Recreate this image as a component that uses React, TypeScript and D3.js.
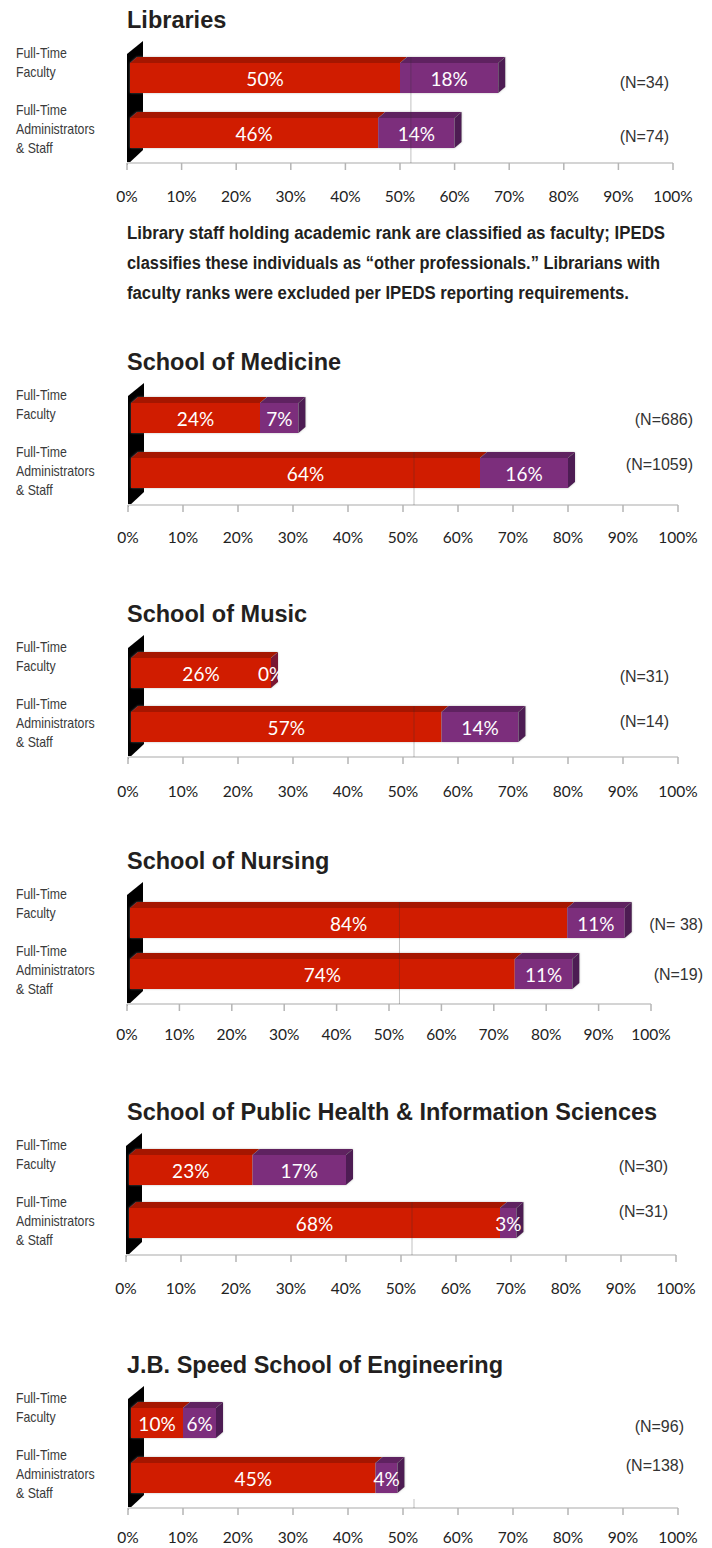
import React, { useRef, useEffect } from "react";
import * as d3 from "d3";

const W = 712;
const H = 1548;

const titles = [
  "Libraries",
  "School of Medicine",
  "School of Music",
  "School of Nursing",
  "School of Public Health & Information Sciences",
  "J.B. Speed School of Engineering",
];
const rowLabels = [
  ["Full-Time", "Faculty"],
  ["Full-Time", "Administrators", "& Staff"],
];
// red segment / purple segment, percent
const facultyRed = [50, 24, 26, 84, 23, 10];
const facultyPurple = [18, 7, 0, 11, 17, 6];
const staffRed = [46, 64, 57, 74, 68, 45];
const staffPurple = [14, 16, 14, 11, 3, 4];
const facultyN = ["(N=34)", "(N=686)", "(N=31)", "(N= 38)", "(N=30)", "(N=96)"];
const staffN = ["(N=74)", "(N=1059)", "(N=14)", "(N=19)", "(N=31)", "(N=138)"];
const tickValues = [0, 10, 20, 30, 40, 50, 60, 70, 80, 90, 100];
const noteLines = [
  "Library staff holding academic rank are classified as faculty; IPEDS",
  "classifies these individuals as \u201cother professionals.\u201d Librarians with",
  "faculty ranks were excluded per IPEDS reporting requirements.",
];

// page layout of each panel (axis baseline, x range, N label placement)
const layout = [
  { axis: 163, x0: 127, x1: 673, nRight: 669, nDy: [-75, -21], barY: [-100, -45], tickDy: 39 },
  { axis: 505, x0: 128, x1: 678, nRight: 693, nDy: [-80, -35], barY: [-102, -47], tickDy: 38 },
  { axis: 757, x0: 128, x1: 678, nRight: 669, nDy: [-75, -30], barY: [-99, -45], tickDy: 40 },
  { axis: 1004, x0: 127, x1: 651, nRight: 703, nDy: [-74, -24], barY: [-96, -45], tickDy: 36 },
  { axis: 1255, x0: 126, x1: 676, nRight: 668, nDy: [-83, -38], barY: [-100, -47], tickDy: 39 },
  { axis: 1508, x0: 128, x1: 678, nRight: 684, nDy: [-76, -37], barY: [-100, -45], tickDy: 35 },
];
const SEAM = 52;

const RED = "#d01d00";
const RED_TOP = "#a51500";
const PURPLE = "#7b2e7b";
const PURPLE_TOP = "#5f2461";
const PURPLE_SIDE = "#4e1c52";
const BAR_H = 30;
const DX = 7;
const DY = 6;
const SANS = "'Liberation Sans', Arial, Helvetica, sans-serif";
const CAL = "Lato, 'Open Sans', sans-serif";

export default function App() {
  const ref = useRef<SVGSVGElement>(null);

  useEffect(() => {
    const svg = d3.select(ref.current);
    svg.selectAll("*").remove();
    svg.attr("width", W).attr("height", H);
    svg.append("rect").attr("width", W).attr("height", H).attr("fill", "#fff");

    const defs = svg.append("defs");
    const f = defs.append("filter").attr("id", "halo").attr("x", "-5%").attr("y", "-30%").attr("width", "110%").attr("height", "160%");
    f.append("feDropShadow").attr("dx", 0).attr("dy", 0).attr("stdDeviation", 1.2)
      .attr("flood-color", "#999").attr("flood-opacity", 0.6);

    titles.forEach((title, i) => {
      const L = layout[i];
      const x = d3.scaleLinear().domain([0, 100]).range([L.x0, L.x1]);
      const g = svg.append("g");

      g.append("text")
        .attr("x", 127)
        .attr("y", L.axis - 135)
        .attr("font-family", SANS)
        .attr("font-weight", "bold")
        .attr("font-size", 23.5)
        .attr("fill", "#231f20")
        .text(title);

      // back wall
      const wx = x(0);
      const wallTop = L.axis - 122;
      g.append("path")
        .attr("d", `M${wx},${wallTop + 13}L${wx + 16},${wallTop}L${wx + 16},${L.axis - 13}L${wx},${L.axis + 2}Z`)
        .attr("fill", "#000");

      // axis
      g.append("line")
        .attr("x1", x(0)).attr("x2", x(100))
        .attr("y1", L.axis).attr("y2", L.axis)
        .attr("stroke", "#d4d4d4").attr("stroke-width", 2);
      g.selectAll(".tick")
        .data(tickValues)
        .enter()
        .append("line")
        .attr("x1", (d) => x(d)).attr("x2", (d) => x(d))
        .attr("y1", L.axis).attr("y2", L.axis + 7)
        .attr("stroke", "#b5b5b5").attr("stroke-width", 1.5);
      g.selectAll(".tlabel")
        .data(tickValues)
        .enter()
        .append("text")
        .attr("x", (d) => x(d))
        .attr("y", L.axis + L.tickDy)
        .attr("text-anchor", "middle")
        .attr("font-family", CAL)
        .attr("font-size", 15.5)
        .attr("fill", "#222")
        .text((d) => `${d}%`);

      // row labels
      const labelY = [
        [L.axis - 105, L.axis - 86],
        [L.axis - 48, L.axis - 29, L.axis - 10],
      ];
      rowLabels.forEach((lines, r) => {
        lines.forEach((s, k) => {
          g.append("text")
            .attr("transform", `translate(16,${labelY[r][k]}) scale(0.88,1)`)
            .attr("font-family", SANS)
            .attr("font-size", 14)
            .attr("fill", "#3a3a3a")
            .text(s);
        });
      });

      // bars
      const rows = [
        { vals: [facultyRed[i], facultyPurple[i]], top: L.axis + L.barY[0], n: facultyN[i], ny: L.axis + L.nDy[0] },
        { vals: [staffRed[i], staffPurple[i]], top: L.axis + L.barY[1], n: staffN[i], ny: L.axis + L.nDy[1] },
      ];
      rows.forEach((row) => {
        let cum = 0;
        const segs = row.vals.map((v, k) => {
          const s = { k, v, a: k === 0 ? x(0) + 3 : x(cum), b: x(cum + v) };
          cum += v;
          return s;
        });
        const bg = g.append("g").attr("filter", "url(#halo)");
        const y = row.top;
        segs.forEach((s) => {
          bg.append("path")
            .attr("d", `M${s.a},${y}L${s.a + DX},${y - DY}L${s.b + DX},${y - DY}L${s.b},${y}Z`)
            .attr("fill", s.k === 0 ? RED_TOP : PURPLE_TOP);
          bg.append("rect")
            .attr("x", s.a).attr("y", y)
            .attr("width", Math.max(0, s.b - s.a)).attr("height", BAR_H)
            .attr("fill", s.k === 0 ? RED : PURPLE);
        });
        const last = segs[segs.length - 1];
        bg.append("path")
          .attr("d", `M${last.b},${y}L${last.b + DX},${y - DY}L${last.b + DX},${y + BAR_H - DY}L${last.b},${y + BAR_H}Z`)
          .attr("fill", last.v > 0 ? PURPLE_SIDE : "#7a1230");
        segs.forEach((s) => {
          g.append("text")
            .attr("x", (s.a + s.b) / 2)
            .attr("y", y + BAR_H - 7)
            .attr("text-anchor", "middle")
            .attr("font-family", CAL)
            .attr("font-size", 19)
            .attr("fill", "#fff")
            .text(`${s.v}%`);
        });
        g.append("text")
          .attr("x", L.nRight)
          .attr("y", row.ny)
          .attr("text-anchor", "end")
          .attr("font-family", SANS)
          .attr("font-size", 16)
          .attr("fill", "#333")
          .text(row.n);
      });

      // faint seam line, visible from the first bar that crosses it down to the axis
      const crossing = rows.find((r) => r.vals[0] + r.vals[1] >= SEAM);
      const seamTop = crossing ? crossing.top - DY : rows[1].top + BAR_H + 6;
      g.append("line")
        .attr("x1", x(SEAM)).attr("x2", x(SEAM))
        .attr("y1", seamTop).attr("y2", L.axis)
        .attr("stroke", "#333").attr("stroke-opacity", 0.3).attr("stroke-width", 1);
    });

    // note under the Libraries panel
    const noteW = [538, 533, 502];
    noteLines.forEach((s, k) => {
      svg.append("text")
        .attr("x", 127)
        .attr("y", 239 + k * 30)
        .attr("font-family", SANS)
        .attr("font-weight", "bold")
        .attr("font-size", 18)
        .attr("fill", "#231f20")
        .attr("textLength", noteW[k])
        .attr("lengthAdjust", "spacingAndGlyphs")
        .text(s);
    });
  }, []);

  return (
    <svg
      ref={ref}
      style={{ position: "absolute", left: 0, top: 0, display: "block" }}
      width={W}
      height={H}
    />
  );
}
